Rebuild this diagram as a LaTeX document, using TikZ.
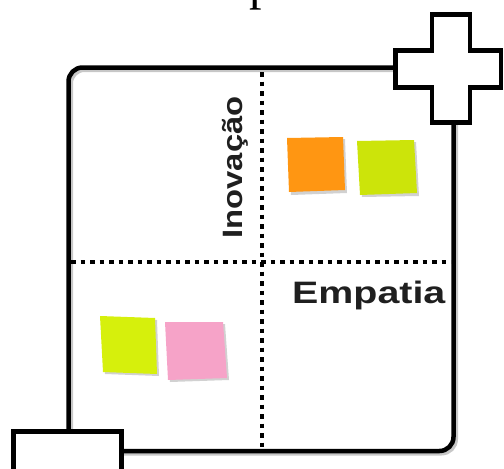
\documentclass[tikz,border=0pt]{standalone}
\usepackage{fontspec}
\setmainfont{Liberation Serif}
\newfontfamily\hv{Liberation Sans}
\definecolor{noteorange}{HTML}{FF9612}
\definecolor{notegreen}{HTML}{CCE40A}
\definecolor{noteyellow}{HTML}{D6F00C}
\definecolor{notepink}{HTML}{F6A3C8}
\tikzset{
  frameline/.style={line width=4.5pt, draw=black},
  dotline/.style={line width=4.5pt, draw=black, dash pattern=on 4.5pt off 5pt},
  signbox/.style={line width=4.5pt, draw=black, fill=white, miter limit=10},
  noteshadow/.style={fill=black!18},
  axislabel/.style={inner sep=0pt, text=black!88, font=\hv\bfseries},
}
\begin{document}
\begin{tikzpicture}[x=1pt,y=-1pt]
\useasboundingbox (0,0) rectangle (504,469);
% clipped title at top
\node[anchor=base west, inner sep=0pt, font=\fontsize{50}{54}\selectfont] (title) at (180,-0.6) {Empatia};
% frame shadow
\draw[line width=5pt, draw=black!22, rounded corners=14pt] (70.5,69.5) rectangle (455.5,453);
% frame
\draw[frameline, rounded corners=14pt] (68.5,67.5) rectangle (453.5,451);
% dotted axes
\coordinate (vtop) at (262,72);
\coordinate (vbot) at (262,449);
\coordinate (hleft) at (71,262);
\coordinate (hright) at (451,262);
\draw[dotline] (vtop) -- (vbot);
\draw[dotline] (hleft) -- (hright);
% plus sign
\draw[signbox] (432,14.5) -- (470,14.5) -- (470,50.5) -- (501,50.5) -- (501,87.5) -- (470,87.5)
  -- (470,122.5) -- (432,122.5) -- (432,87.5) -- (395.5,87.5) -- (395.5,50.5) -- (432,50.5) -- cycle;
% minus sign
\draw[signbox] (13.5,431.5) rectangle (121.5,480);
% sticky notes
\fill[noteshadow] (289,140) -- (345,139) -- (347,193) -- (291,195) -- cycle;
\fill[noteorange] (287,138) -- (343,137) -- (345,190) -- (289,192) -- cycle;
\fill[noteshadow] (359,143) -- (416,142) -- (419,196) -- (362,197) -- cycle;
\fill[notegreen] (357,141) -- (414,140) -- (417,193) -- (360,195) -- cycle;
\fill[noteshadow] (102,318) -- (157,320) -- (159,376) -- (105,374) -- cycle;
\fill[noteyellow] (100,316) -- (155,318) -- (157,374) -- (103,372) -- cycle;
\fill[noteshadow] (167,324) -- (225,324) -- (229,380) -- (170,382) -- cycle;
\fill[notepink] (165,322) -- (223,322) -- (227,378) -- (168,380) -- cycle;
% axis labels
\node[axislabel, anchor=base, rotate=90] (inov) at (242,167.5)
  {\fontsize{28}{30}\selectfont\scalebox{1.17}[1]{Inovação}};
\node[axislabel, anchor=base west] (emp) at (292,303)
  {\fontsize{31}{33}\selectfont\scalebox{1.27}[1]{Empatia}};
\end{tikzpicture}
\end{document}
